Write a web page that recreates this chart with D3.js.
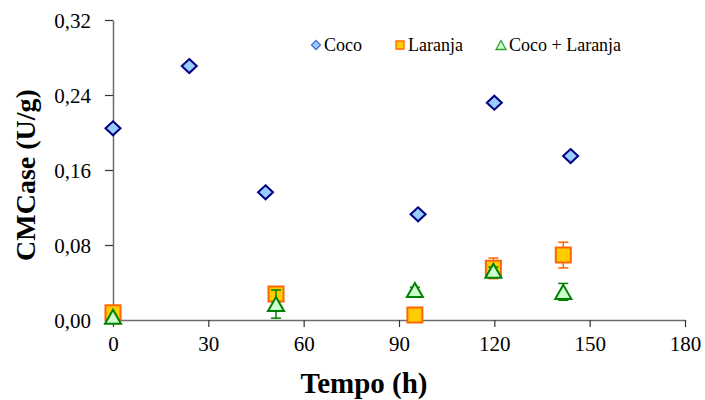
<!DOCTYPE html>
<html>
<head>
<meta charset="utf-8">
<script src="https://cdn.jsdelivr.net/npm/d3@7/dist/d3.min.js"></script>
<style>
  html, body { margin: 0; padding: 0; background: #fff; }
  svg { display: block; }
  svg text { font-family: 'Liberation Serif', 'Times New Roman', serif !important; }
</style>
</head>
<body>
<svg id="chart" width="705" height="400"></svg>
<script>
// CMCase activity over time for three substrates
const cocoTime = [0, 24, 48, 96, 120, 144];
const cocoValue = [0.2045, 0.2709, 0.1362, 0.1127, 0.2318, 0.1749];

const laranjaTime = [0, 51.3, 95, 119.7, 141.7];
const laranjaValue = [0.0078, 0.0277, 0.0053, 0.0551, 0.0693];
const laranjaError = [0, 0, 0, 0.011, 0.0137];

const mixTime = [0, 51.3, 95, 119.7, 141.7];
const mixValue = [0.0035, 0.017, 0.032, 0.0525, 0.030];
const mixError = [0, 0.015, 0.003, 0.004, 0.009];

const xTicks = [0, 30, 60, 90, 120, 150, 180];
const yTicks = [0, 0.08, 0.16, 0.24, 0.32];
const seriesNames = ["Coco", "Laranja", "Coco + Laranja"];

const svg = d3.select("#chart");
const plotLeft = 113, plotRight = 685, plotTop = 20, plotBottom = 320;

const x = d3.scaleLinear().domain([0, 180]).range([plotLeft, plotRight]);
const y = d3.scaleLinear().domain([0, 0.32]).range([plotBottom, plotTop]);
const axisColor = "#6b6b6b";

// axes
const yAxis = svg.append("g").attr("transform", `translate(${plotLeft},0)`)
  .call(d3.axisLeft(y).tickValues(yTicks).tickSizeInner(8).tickSizeOuter(0)
    .tickPadding(14).tickFormat(d => d3.format(".2f")(d).replace(".", ",")));
const xAxis = svg.append("g").attr("transform", `translate(0,${plotBottom})`)
  .call(d3.axisBottom(x).tickValues(xTicks).tickSizeInner(7).tickSizeOuter(0)
    .tickPadding(9).tickFormat(d3.format("d")));
[yAxis, xAxis].forEach(a => {
  a.attr("font-size", 21);
  a.select(".domain").attr("stroke", axisColor).attr("stroke-width", 1.5);
  a.selectAll(".tick line").attr("stroke", "#333").attr("stroke-width", 1.2);
  a.selectAll(".tick text").attr("fill", "#000").style("font-size", "21px");
});
yAxis.selectAll(".tick text").attr("dy", "0.36em");

// axis titles
svg.append("text").attr("x", 364).attr("y", 393).attr("text-anchor", "middle")
  .style("font-size", "29px").attr("font-weight", "bold").text("Tempo (h)");
svg.append("text").attr("transform", "translate(35,175) rotate(-90)")
  .attr("text-anchor", "middle").style("font-size", "28px")
  .attr("font-weight", "bold").text("CMCase (U/g)");

// marker shapes
const diamond = (w, h) => `M0,${-h / 2}L${w / 2},0L0,${h / 2}L${-w / 2},0Z`;
const square = s => `M${-s / 2},${-s / 2}h${s}v${s}h${-s}Z`;
const triangle = (w, h) => `M0,${-h / 2}L${w / 2},${h / 2}L${-w / 2},${h / 2}Z`;

const styles = [
  { fill: "#99ccff", stroke: "#000080" },
  { fill: "#ffcc00", stroke: "#ff6600" },
  { fill: "#ccffcc", stroke: "#008000" }
];

function errorBars(times, values, errors, color) {
  const g = svg.append("g").attr("stroke", color).attr("stroke-width", 1.5);
  times.forEach((t, i) => {
    if (!errors[i]) return;
    const cx = x(t), y1 = y(values[i] - errors[i]), y2 = y(values[i] + errors[i]);
    g.append("line").attr("x1", cx).attr("x2", cx).attr("y1", y1).attr("y2", y2);
    g.append("line").attr("x1", cx - 5).attr("x2", cx + 5).attr("y1", y1).attr("y2", y1);
    g.append("line").attr("x1", cx - 5).attr("x2", cx + 5).attr("y1", y2).attr("y2", y2);
  });
}

// Coco
svg.append("g").selectAll("path").data(cocoTime).join("path")
  .attr("transform", (d, i) => `translate(${x(d)},${y(cocoValue[i])})`)
  .attr("d", diamond(15, 14)).attr("fill", styles[0].fill)
  .attr("stroke", styles[0].stroke).attr("stroke-width", 2);

// Laranja
errorBars(laranjaTime, laranjaValue, laranjaError, styles[1].stroke);
svg.append("g").selectAll("path").data(laranjaTime).join("path")
  .attr("transform", (d, i) => `translate(${x(d)},${y(laranjaValue[i])})`)
  .attr("d", square(15)).attr("fill", styles[1].fill)
  .attr("stroke", styles[1].stroke).attr("stroke-width", 2);

// Coco + Laranja
errorBars(mixTime, mixValue, mixError, styles[2].stroke);
svg.append("g").selectAll("path").data(mixTime).join("path")
  .attr("transform", (d, i) => `translate(${x(d)},${y(mixValue[i])})`)
  .attr("d", triangle(16, 14)).attr("fill", styles[2].fill)
  .attr("stroke", styles[2].stroke).attr("stroke-width", 2);

// legend
const legendX = [316, 400, 501];
const legendShapes = [diamond(9, 9), square(8), triangle(10, 9)];
const legend = svg.append("g");
seriesNames.forEach((name, i) => {
  legend.append("path").attr("transform", `translate(${legendX[i]},45)`)
    .attr("d", legendShapes[i]).attr("fill", styles[i].fill)
    .attr("stroke", i === 0 ? "#4a6fd8" : i === 2 ? "#33a033" : styles[i].stroke)
    .attr("stroke-width", 1.3);
  legend.append("text").attr("x", legendX[i] + 8).attr("y", 51)
    .style("font-size", "18px").text(name);
});
</script>
</body>
</html>
